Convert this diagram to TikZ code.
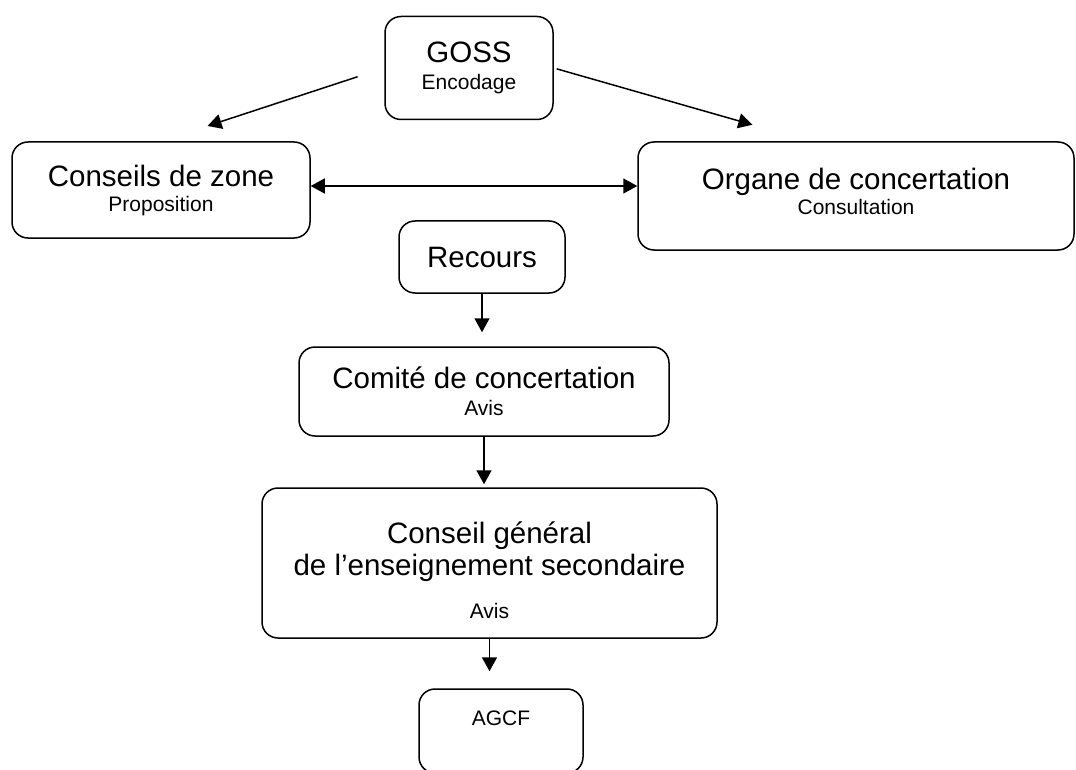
\documentclass[tikz,border=0pt]{standalone}
\usepackage{fontspec}
\setmainfont{Liberation Sans}
\usetikzlibrary{arrows.meta,positioning}

\newcommand{\petit}[1]{{\fontsize{21}{25}\selectfont #1}}

\begin{document}
\begin{tikzpicture}[x=1pt, y=-1pt,
box/.style={rectangle, draw, rounded corners=16pt, line width=1.5pt, align=center, inner sep=0pt, font=\fontsize{29.5}{25}\selectfont},
fleche/.style={-{Triangle[length=14pt,width=15pt]}, line width=1.5pt},
]
\useasboundingbox (0,0) rectangle (1076,770);
%Nodes
\node[box, minimum width=168pt, minimum height=103pt] (goss)    at (469,68)   {GOSS\\[2pt]\petit{Encodage}};
\node[box, minimum width=298pt, minimum height=96pt]  (zone)    at (161,190)  {Conseils de zone\\\petit{Proposition}};
\node[box, minimum width=436pt, minimum height=108pt] (organe)  at (856,196)  {Organe de concertation\\\petit{Consultation\rule[-10pt]{0pt}{0pt}}};
\node[box, minimum width=166pt, minimum height=72pt]  (recours) at (482,257)  {Recours};
\node[box, minimum width=370pt, minimum height=89pt]  (comite)  at (484,391.5) {Comité de concertation\\[2pt]\petit{Avis}};
\node[box, minimum width=455pt, minimum height=150pt] (cgen)    at (489.5,563) {\rule{0pt}{36pt}Conseil général\\[4pt]de l’enseignement secondaire\\[18pt]\petit{Avis}};
\node[box, minimum width=164pt, minimum height=84pt]  (agcf)    at (501,731)  {\petit{AGCF}\\ \mbox{}};

%Lines
\draw[fleche, shorten <=28pt, shorten >=49pt] (goss.west) -- (zone.north);
\draw[fleche, shorten <=3pt, shorten >=60pt] (goss.east) -- (organe.130);
\draw[{Triangle[length=14pt,width=15pt]}-{Triangle[length=14pt,width=15pt]}, line width=1.5pt] ([yshift=4pt]zone.east) -- ([yshift=4pt]zone.east -| organe.west);
\draw[fleche, shorten >=14pt] (recours.south) -- (recours.south |- comite.north);
\draw[fleche, shorten >=3pt] (comite.south) -- (comite.south |- cgen.north);
\draw[fleche, shorten >=17pt] (cgen.south) -- (cgen.south |- agcf.north);
\end{tikzpicture}
\end{document}
